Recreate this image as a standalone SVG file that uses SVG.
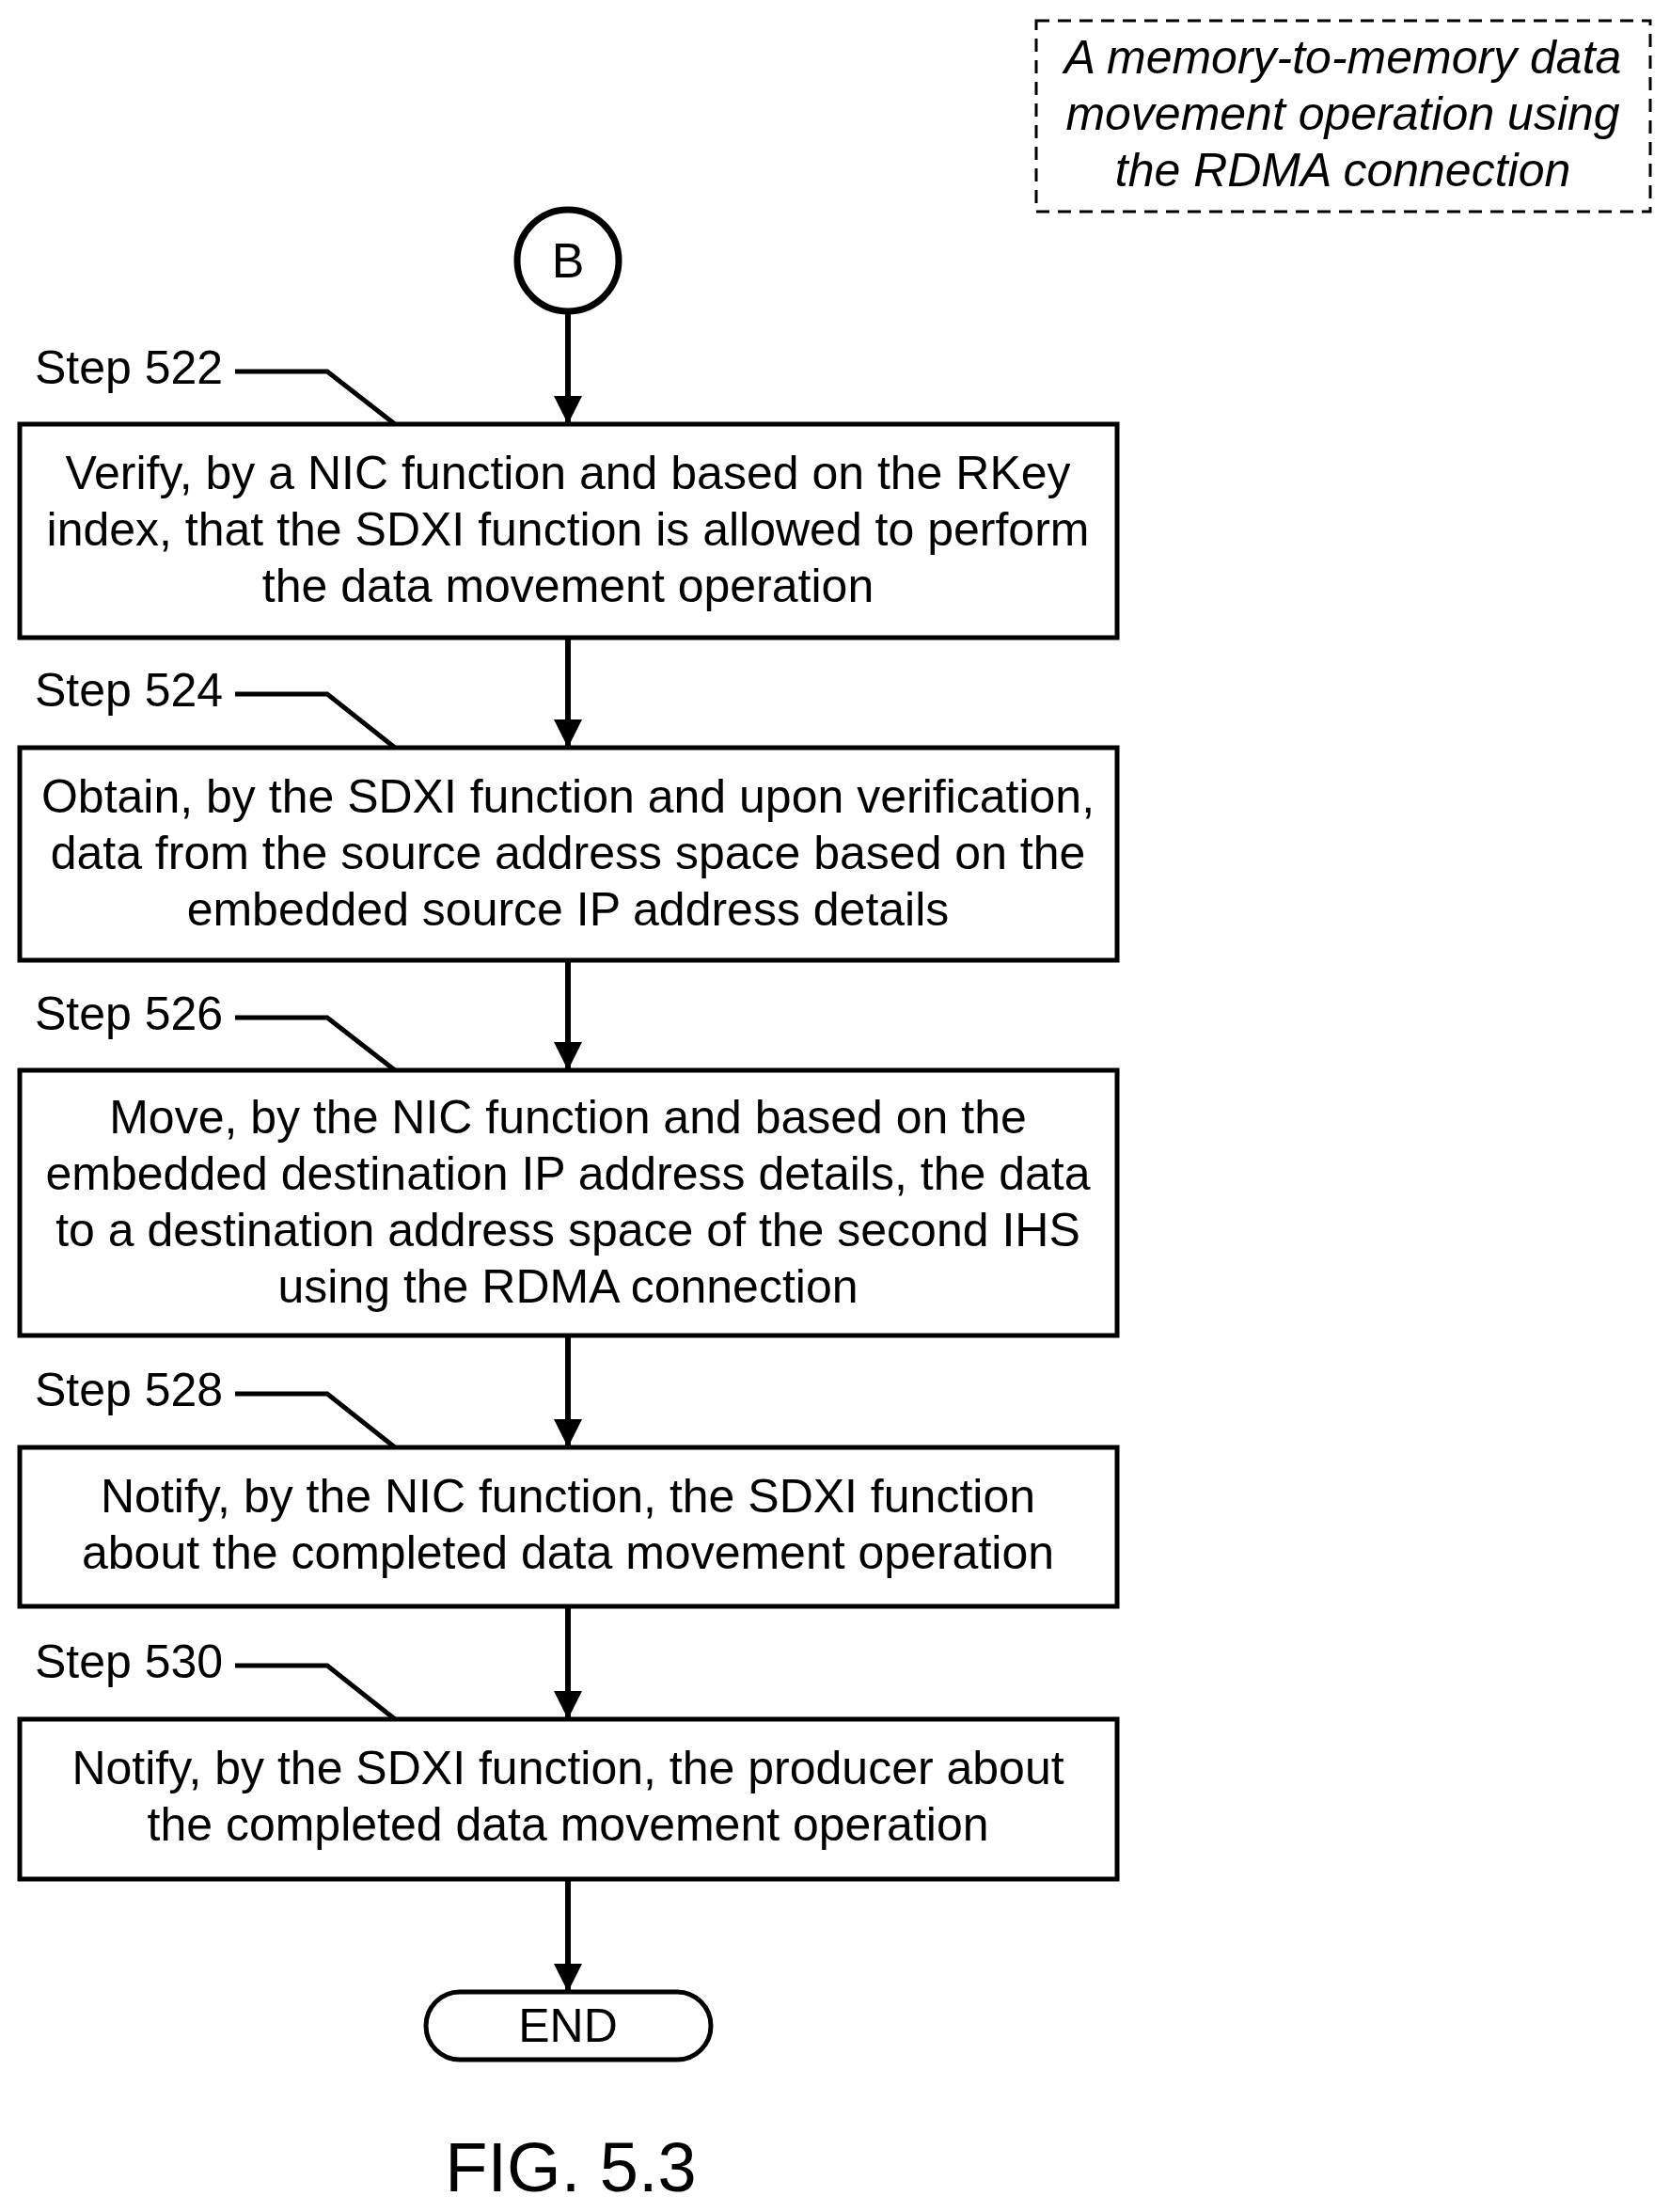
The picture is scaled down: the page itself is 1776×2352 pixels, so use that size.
<svg xmlns="http://www.w3.org/2000/svg" width="1776" height="2352" viewBox="0 0 1776 2352">
<style>
text{font-family:"Liberation Sans",Arial,sans-serif;fill:#000}
.t{font-size:50px;text-anchor:middle}
.s{font-size:50px}
.i{font-size:50px;font-style:italic;text-anchor:middle}
.b{fill:#fff;stroke:#000;stroke-width:5}
.c{fill:none;stroke:#000;stroke-width:5}
</style>
<defs>
<marker id="ah" viewBox="0 0 10 10" refX="10" refY="5" markerWidth="30" markerHeight="30" markerUnits="userSpaceOnUse" orient="auto"><path d="M0,0L10,5L0,10z"/></marker></defs>
<rect width="1776" height="2352" fill="#fff"/>
<g id="note"><rect x="1102" y="22" width="653" height="203" fill="none" stroke="#000" stroke-width="3" stroke-dasharray="14,9"/>
<text class="i" x="1428" y="78">A memory-to-memory data</text><text class="i" x="1428" y="138">movement operation using</text><text class="i" x="1428" y="198">the RDMA connection</text></g>
<g id="B"><circle cx="604" cy="277" r="54" fill="#fff" stroke="#000" stroke-width="7"/><text class="t" x="604" y="295" style="font-size:52px">B</text></g>
<g id="s522"><rect class="b" x="21" y="451" width="1167" height="227"/><text class="t" x="604" y="520">Verify, by a NIC function and based on the RKey</text><text class="t" x="604" y="580">index, that the SDXI function is allowed to perform</text><text class="t" x="604" y="640">the data movement operation</text></g>
<g id="s524"><rect class="b" x="21" y="795" width="1167" height="226"/><text class="t" x="604" y="864">Obtain, by the SDXI function and upon verification,</text><text class="t" x="604" y="924">data from the source address space based on the</text><text class="t" x="604" y="984">embedded source IP address details</text></g>
<g id="s526"><rect class="b" x="21" y="1138" width="1167" height="282"/><text class="t" x="604" y="1205">Move, by the NIC function and based on the</text><text class="t" x="604" y="1265">embedded destination IP address details, the data</text><text class="t" x="604" y="1325">to a destination address space of the second IHS</text><text class="t" x="604" y="1385">using the RDMA connection</text></g>
<g id="s528"><rect class="b" x="21" y="1539" width="1167" height="169"/><text class="t" x="604" y="1608">Notify, by the NIC function, the SDXI function</text><text class="t" x="604" y="1668">about the completed data movement operation</text></g>
<g id="s530"><rect class="b" x="21" y="1828" width="1167" height="170"/><text class="t" x="604" y="1897">Notify, by the SDXI function, the producer about</text><text class="t" x="604" y="1957">the completed data movement operation</text></g>
<g id="end"><rect class="b" x="453" y="2118" width="303" height="72" rx="36"/><text class="t" x="604" y="2171">END</text></g>
<g id="labels">
<text class="s" x="37" y="408">Step 522</text><text class="s" x="37" y="751">Step 524</text><text class="s" x="37" y="1095">Step 526</text><text class="s" x="37" y="1495">Step 528</text><text class="s" x="37" y="1784">Step 530</text>
<path class="c" d="M250,395H348L420,451M250,738H348L420,795M250,1082H348L420,1138M250,1482H348L420,1539M250,1771H348L420,1828"/>
</g>
<g id="connectors" stroke="#000" stroke-width="6">
<line x1="604" y1="331" x2="604" y2="451" marker-end="url(#ah)"/>
<line x1="604" y1="678" x2="604" y2="795" marker-end="url(#ah)"/>
<line x1="604" y1="1021" x2="604" y2="1138" marker-end="url(#ah)"/>
<line x1="604" y1="1420" x2="604" y2="1539" marker-end="url(#ah)"/>
<line x1="604" y1="1708" x2="604" y2="1828" marker-end="url(#ah)"/>
<line x1="604" y1="1998" x2="604" y2="2118" marker-end="url(#ah)"/>
</g>
<text x="607" y="2330" style="font-size:74px;text-anchor:middle">FIG. 5.3</text>
</svg>
